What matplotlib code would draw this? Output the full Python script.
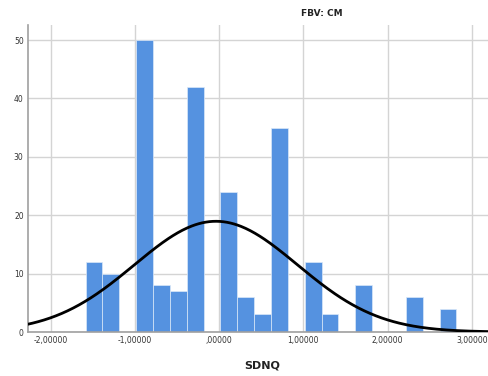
import numpy as np
import matplotlib
matplotlib.use("Agg")
import matplotlib.pyplot as plt
from matplotlib.ticker import FuncFormatter

# histogram bins (left edge of first bin, width) and counts
bin_start = -1.585
bin_width = 0.2
counts = [12, 10, 0, 50, 8, 7, 42, 0, 24, 6, 3, 35, 0, 12, 3, 0, 8, 0, 0, 6, 0, 4]
x_ticks = [-2, -1, 0, 1, 2, 3]
y_ticks = [0, 10, 20, 30, 40, 50]

edges = bin_start + bin_width * np.arange(len(counts) + 1)
centers = (edges[:-1] + edges[1:]) / 2
counts = np.array(counts)

# normal curve from the binned data
n = counts.sum()
mean = (centers * counts).sum() / n
sd = np.sqrt(((centers - mean) ** 2 * counts).sum() / n)
xs = np.linspace(-2.3, 3.25, 400)
ys = n * bin_width * np.exp(-0.5 * ((xs - mean) / sd) ** 2) / (sd * np.sqrt(2 * np.pi))

fig = plt.figure(figsize=(4.88, 3.76), dpi=100)
ax = fig.add_axes([0.057, 0.117, 0.943, 0.817])

ax.bar(edges[:-1], counts, width=bin_width, align="edge", color="#5592e0",
       edgecolor="#dbe8f8", linewidth=0.5, zorder=2)
ax.plot(xs, ys, color="black", linewidth=2, zorder=3)

ax.set_xlim(-2.27, 3.19)
ax.set_ylim(0, 52.6)
ax.set_xticks(x_ticks)
ax.set_yticks(y_ticks)


def fmt(v, pos):
    s = f"{v:.5f}".replace(".", ",")
    if s.startswith("0,"):
        s = s[1:]
    return s


ax.xaxis.set_major_formatter(FuncFormatter(fmt))
ax.tick_params(axis="both", length=0, labelsize=5.5, colors="#333333", pad=3)
ax.grid(True, color="#d4d4d4", linewidth=1, zorder=0)
ax.set_axisbelow(True)
for side in ["top", "right"]:
    ax.spines[side].set_visible(False)
ax.spines["left"].set_color("#a0a0a0")
ax.spines["bottom"].set_color("#a0a0a0")
ax.spines["left"].set_linewidth(1.2)
ax.spines["bottom"].set_linewidth(1.2)

fig.text(0.66, 0.963, "FBV: CM", ha="center", va="center", fontsize=6.5,
         fontweight="bold", color="#222222")
fig.text(0.537, 0.029, "SDNQ", ha="center", va="center", fontsize=8,
         fontweight="bold", color="#222222")

fig.savefig("out.png", dpi=100)
